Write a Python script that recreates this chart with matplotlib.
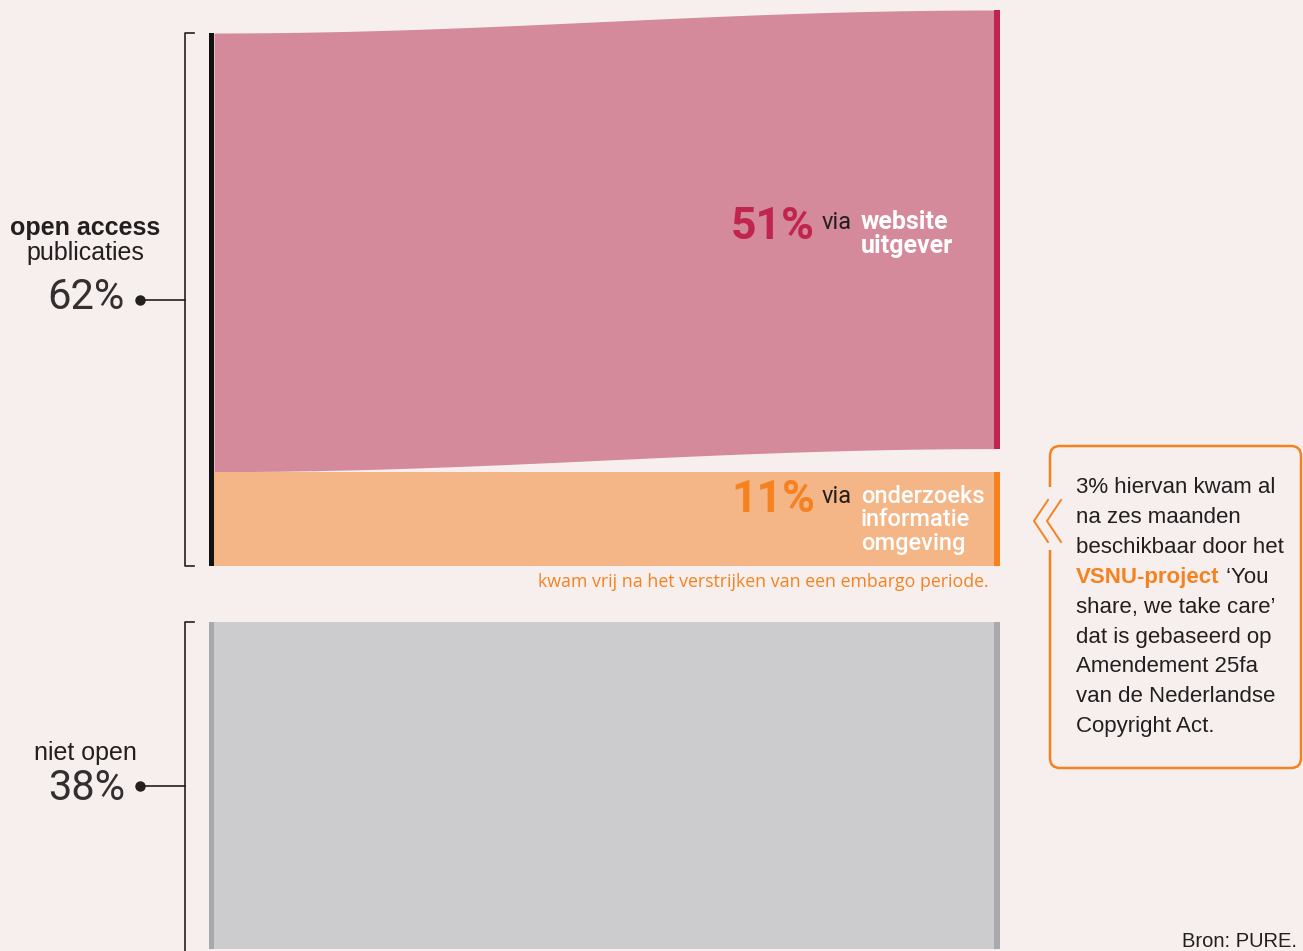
import numpy as np
import matplotlib
matplotlib.use("Agg")
from matplotlib import pyplot as plt
from matplotlib.patches import FancyBboxPatch, Rectangle

# shares in percent of all publications
open_pct = 62
closed_pct = 38
route_pct = [51, 11]  # website uitgever, onderzoeksinformatie omgeving
route_names = [["website", "uitgever"], ["onderzoeks", "informatie", "omgeving"]]
group_names = [["open access", "publicaties"], ["niet open"]]
note_lines = ["3% hiervan kwam al", "na zes maanden", "beschikbaar door het",
              None, "share, we take care\u2019", "dat is gebaseerd op",
              "Amendement 25fa", "van de Nederlandse", "Copyright Act."]

BG = "#f6efed"
INK = "#231f20"
PINK = "#d48a9a"
PINK_DARK = "#c0254f"
ORANGE = "#f4b686"
ORANGE_DARK = "#f5821f"
GREY = "#cccbcd"
GREY_DARK = "#a8a9ad"

PX = 8.6          # pixels per percentage point
TOP = 33          # pixel row of the top of the open access bar
LIFT = -23 / PX   # the publisher flow ends a little higher on the right
GAP = 56 / PX     # gap between open and closed block
X0, X1 = 214, 995

fig = plt.figure(figsize=(13.03, 9.51), dpi=100)
fig.patch.set_facecolor(BG)
ax = fig.add_axes([0, 0, 1, 1])
ax.set_facecolor(BG)
ax.set_xlim(0, 1303)
ax.set_ylim((951 - TOP) / PX, -TOP / PX)
ax.axis("off")

# flows
xs = np.linspace(X0, X1, 300)
s = (1 - np.cos(np.pi * (xs - X0) / (X1 - X0))) / 2
ax.fill_between(xs, LIFT * s, route_pct[0] + LIFT * s, color=PINK, lw=0)
ax.fill_between(xs, route_pct[0], open_pct, color=ORANGE, lw=0)
closed_top = open_pct + GAP
ax.fill_between(xs, closed_top, closed_top + closed_pct, color=GREY, lw=0)

# side bars
ax.bar(211.5, open_pct, bottom=0, width=5, color="#111111", lw=0)
ax.bar(997, route_pct[0], bottom=LIFT, width=6, color=PINK_DARK, lw=0)
ax.bar(997, route_pct[1], bottom=route_pct[0], width=6, color=ORANGE_DARK, lw=0)
ax.bar(211.5, closed_pct, bottom=closed_top, width=5, color=GREY_DARK, lw=0)
ax.bar(997, closed_pct, bottom=closed_top, width=6, color=GREY_DARK, lw=0)

# brackets
ax.plot([194, 185, 185, 194], [0, 0, open_pct, open_pct], color=INK, lw=1.2)
ax.plot([194, 185, 185], [closed_top, closed_top, closed_top + closed_pct + 3], color=INK, lw=1.2)
for mid in [open_pct / 2, closed_top + closed_pct / 2]:
    ax.plot([140, 185], [mid, mid], color=INK, lw=1.2)
    ax.plot(140, mid, "o", color=INK, ms=6.5)

big = dict(family=["Roboto", "DejaVu Sans"], fontweight="normal", fontsize=30, color="#332f30")
lab = dict(family=["Liberation Sans", "DejaVu Sans"], fontsize=18, color=INK, ha="center")
ax.text(85, open_pct / 2 - 7.55, group_names[0][0], fontweight="bold", va="baseline", **lab)
ax.text(85, open_pct / 2 - 4.65, group_names[0][1], va="baseline", **lab)
ax.text(125, open_pct / 2 + 1.05, f"{open_pct}%", ha="right", va="baseline", **big)
ax.text(85, closed_top + closed_pct / 2 - 3.0, group_names[1][0], va="baseline", **lab)
ax.text(125, closed_top + closed_pct / 2 + 1.65, f"{closed_pct}%", ha="right", va="baseline", **big)

# route labels
num = dict(family=["Roboto", "DejaVu Sans"], fontweight="bold", fontsize=32, ha="right", va="baseline")
sub = dict(family=["Roboto", "DejaVu Sans"], va="baseline")
rows = [23.9, 55.7]
colors = [PINK_DARK, ORANGE_DARK]
weights = ["bold", "medium"]
sizes = [18, 17]
for i, pct in enumerate(route_pct):
    y = rows[i]
    ax.text(815, y, f"{pct}%", color=colors[i], **num)
    ax.text(822, y - 1.1, "via", color=INK, fontsize=17, **sub)
    for j, word in enumerate(route_names[i]):
        ax.text(861, y - 1.1 + j * 2.75, word, color="white", fontweight=weights[i],
                fontsize=sizes[i], **sub)

ax.text(989, open_pct + 2.4, "kwam vrij na het verstrijken van een embargo periode.",
        family=["Open Sans", "DejaVu Sans"], fontsize=12.8, color=ORANGE_DARK,
        ha="right", va="baseline")

# callout box
box = FancyBboxPatch((1050, (446 - TOP) / PX), 251, (768 - 446) / PX,
                     boxstyle="round,pad=0,rounding_size=10", mutation_aspect=1 / PX,
                     fc="none", ec=ORANGE_DARK, lw=1.8)
ax.add_patch(box)
ax.add_patch(Rectangle((1044, (487 - TOP) / PX), 12, 63 / PX, fc=BG, ec="none", zorder=3))
cy = (521 - TOP) / PX
for tip in [1034, 1047]:
    ax.plot([tip + 14, tip, tip + 14], [cy - 21 / PX, cy, cy + 21 / PX],
            color=ORANGE_DARK, lw=1.4, zorder=4, solid_joinstyle="miter")

note = dict(family=["Liberation Sans", "DejaVu Sans"], fontsize=16, va="baseline")
y0 = (493 - TOP) / PX
for i, line in enumerate(note_lines):
    y = y0 + i * 29.9 / PX
    if line is None:
        t = ax.text(1076, y, "VSNU-project", color=ORANGE_DARK, fontweight="bold", **note)
        ax.annotate(" \u2018You", xycoords=t, xy=(1, 0), va="bottom", color=INK,
                    family=["Liberation Sans", "DejaVu Sans"], fontsize=16)
    else:
        ax.text(1076, y, line, color=INK, **note)

ax.text(1297, (947 - TOP) / PX, "Bron: PURE.",
        family=["Liberation Sans Narrow", "DejaVu Sans Condensed", "Liberation Sans"],
        fontsize=14.5, color=INK, ha="right", va="baseline")

fig.savefig("out.png", dpi=100, facecolor=BG)
